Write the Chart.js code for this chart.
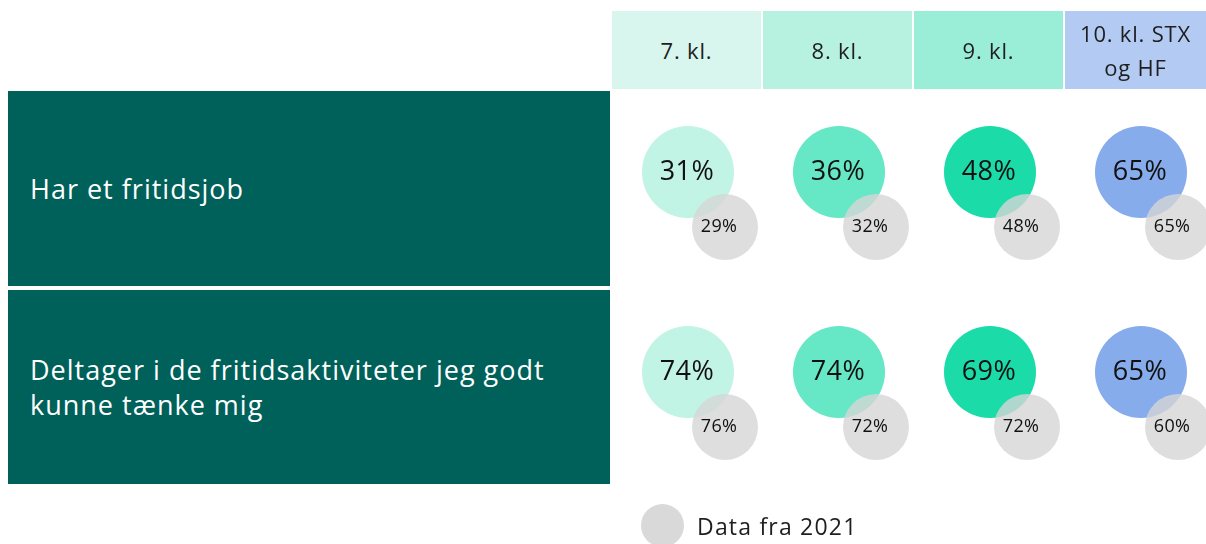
<!DOCTYPE html>
<html>
<head>
<meta charset="utf-8">
<script src="https://cdn.jsdelivr.net/npm/chart.js@4.4.1/dist/chart.umd.min.js"></script>
<style>
  body { margin: 0; width: 1206px; height: 544px; overflow: hidden; background: #fff; font-family: "Open Sans", sans-serif; position: relative; }
  .hd { position: absolute; top: 11px; height: 78px; display: flex; align-items: center; justify-content: center; text-align: center; font-size: 22px; letter-spacing: 0.8px; color: #1e1e1e; line-height: 34px; }
  .row { position: absolute; left: 8px; width: 602px; background: #00605a; color: #fff; font-size: 27px; letter-spacing: 1px; line-height: 35px; display: flex; align-items: center; padding-left: 22px; box-sizing: border-box; }
  #chart { position: absolute; left: 0; top: 0; }
  .leg-dot { position: absolute; left: 641px; top: 504px; width: 43px; height: 43px; border-radius: 50%; background: #d9d9d9; }
  .leg-txt { position: absolute; left: 697px; top: 510px; font-size: 23px; letter-spacing: 1.2px; color: #1e1e1e; }
</style>
</head>
<body>
<canvas id="chart" width="1206" height="544"></canvas>
<div class="leg-dot"></div>
<div class="leg-txt">Data fra 2021</div>
<script>
// columns and rows
const grades = ['7. kl.', '8. kl.', '9. kl.', '10. kl. STX<br>og HF'];
const questions = ['Har et fritidsjob', 'Deltager i de fritidsaktiviteter jeg godt<br>kunne tænke mig'];

// values per question (rows), per grade (columns)
const current = [
    [31, 36, 48, 65],
    [74, 74, 69, 65]
];
const prev2021 = [
    [29, 32, 48, 65],
    [76, 72, 72, 60]
];

const headColors = ['#d8f6ee', '#b7f2e0', '#9aeed7', '#b3cbf2'];
const bubbleColors = ['#c1f4e4', '#66e7c5', '#1bdca9', '#86acec'];

// table background, drawn as plain html
const colLeft = [612, 763, 914, 1065];
const colWidth = [149, 149, 149, 141];
grades.forEach((g, i) => {
    const d = document.createElement('div');
    d.className = 'hd';
    d.style.left = colLeft[i] + 'px';
    d.style.width = colWidth[i] + 'px';
    d.style.background = headColors[i];
    d.innerHTML = g;
    document.body.appendChild(d);
});
const rowTop = [91, 290];
const rowHeight = [195, 194];
questions.forEach((q, i) => {
    const d = document.createElement('div');
    d.className = 'row';
    d.style.top = rowTop[i] + 'px';
    d.style.height = rowHeight[i] + 'px';
    d.innerHTML = '<span>' + q + '</span>';
    document.body.appendChild(d);
});

// scale setup: one unit = one column / one row
const colStep = 151, firstCol = 688;
const rowStep = 200, firstRow = 172;
const dx = 0.245, dy = 0.275;

let mainPoints = [], oldPoints = [], mainBg = [];
for (let r = 0; r < questions.length; r++) {
    for (let c = 0; c < grades.length; c++) {
        mainPoints.push({ x: c, y: r, v: current[r][c] });
        oldPoints.push({ x: c + dx, y: r + dy, v: prev2021[r][c] });
        mainBg.push(bubbleColors[c]);
    }
}

const valueLabels = {
    id: 'valueLabels',
    afterDatasetsDraw(chart) {
        const ctx = chart.ctx;
        ctx.save();
        ctx.fillStyle = '#111';
        ctx.textAlign = 'center';
        ctx.textBaseline = 'middle';
        chart.data.datasets.forEach((ds, i) => {
            const meta = chart.getDatasetMeta(i);
            const big = ds.label !== 'Data fra 2021';
            ctx.font = big ? '27px "Open Sans"' : '18px "Open Sans"';
            ctx.letterSpacing = big ? '0.5px' : '0.3px';
            meta.data.forEach((el, j) => {
                ctx.fillText(ds.data[j].v + '%', el.x - (big ? 1 : 6), el.y);
            });
        });
        ctx.restore();
    }
};

new Chart(document.getElementById('chart'), {
    type: 'bubble',
    data: {
        datasets: [{
            label: 'Data fra 2021',
            data: oldPoints,
            radius: 33,
            backgroundColor: 'rgba(214, 214, 214, 0.8)',
            borderWidth: 0,
            clip: false,
            order: 0
        }, {
            label: '2023',
            data: mainPoints,
            radius: 46,
            backgroundColor: mainBg,
            borderWidth: 0,
            clip: false,
            order: 1
        }]
    },
    options: {
        responsive: false,
        animation: false,
        layout: { padding: 0, autoPadding: false },
        plugins: { legend: { display: false }, tooltip: { enabled: false } },
        scales: {
            x: { type: 'linear', display: false, min: -firstCol / colStep, max: (1206 - firstCol) / colStep },
            y: { type: 'linear', display: false, reverse: true, min: -firstRow / rowStep, max: (544 - firstRow) / rowStep }
        }
    },
    plugins: [valueLabels]
});
</script>
</body>
</html>
